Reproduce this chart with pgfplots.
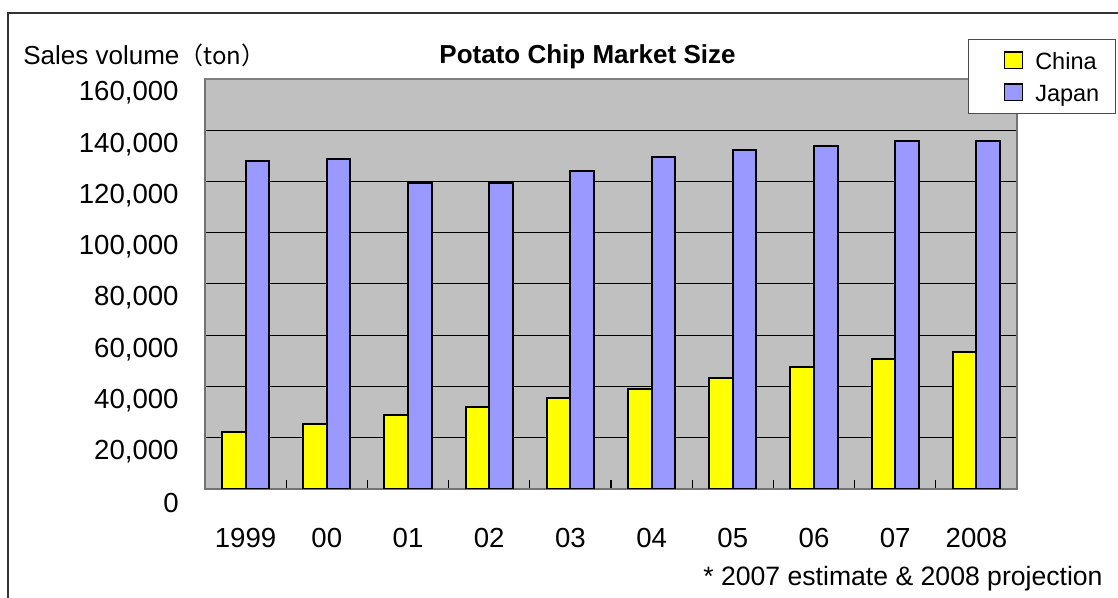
\documentclass[border=0pt]{standalone}
\usepackage{pgfplots}
\pgfplotsset{compat=1.18}
\usepackage{fontspec}
\setmainfont{Liberation Sans}
\newfontfamily\cjk{Noto Sans CJK JP}
\definecolor{plotbg}{HTML}{C0C0C0}
\definecolor{china}{HTML}{FFFF00}
\definecolor{japan}{HTML}{9999FF}

\begin{document}
\begin{tikzpicture}[x=1pt,y=1pt]
\path[use as bounding box] (0,0) rectangle (559,299);
% outer chart frame (cut off at right and bottom)
\draw[black!80, line width=0.6pt] (4,-5) -- (4,292.5) -- (565,292.5);
\begin{axis}[
    at={(102.5pt,54.5pt)}, anchor=south west,
    scale only axis, width=406pt, height=205pt,
    ybar, bar width=0.29,
    xmin=-0.5, xmax=9.5,
    ymin=0, ymax=160000,
    xtick={0,...,9},
    xticklabels={1999,00,01,02,03,04,05,06,07,2008},
    minor xtick={0.5,1.5,...,8.5},
    xtick pos=bottom, ytick pos=left,
    major tick length=0pt, minor tick length=4.5pt,
    tick align=inside,
    scaled y ticks=false,
    ytick={0,20000,40000,60000,80000,100000,120000,140000,160000},
    yticklabels={0,{20,000},{40,000},{60,000},{80,000},{100,000},{120,000},{140,000},{160,000}},
    ymajorgrids,
    grid style={black, line width=0.5pt},
    axis background/.style={fill=plotbg},
    axis line style={draw=black!55, line width=0.7pt},
    minor tick style={black, line width=0.6pt},
    ticklabel style={font=\fontsize{13.8}{16}\selectfont},
    yticklabel style={anchor=east, inner sep=0pt, xshift=-13pt, yshift=-7pt},
    xticklabel style={anchor=north, inner sep=0pt, yshift=-19.5pt},
    after end axis/.code={
        \draw[black!50, line width=0.7pt] (rel axis cs:0,1) -- (rel axis cs:1,1);
    },
    legend cell align=left,
    legend style={at={(0.9397,1.098)}, anchor=north west,
        draw=black!70, fill=white, font=\fontsize{11.75}{14}\selectfont,
        inner xsep=2pt, inner ysep=4.8pt, row sep=4.6pt,
        nodes={inner xsep=6pt, inner ysep=1pt, text height=9.4pt, text depth=0pt}},
    legend image code/.code={\path (0pt,0pt);
        \draw[#1, line width=0.8pt] (15.5pt,-4.2pt) rectangle (24.5pt,4.2pt);},
]
\addplot[draw=black, fill=china, line width=1pt, bar shift=-0.145] coordinates {
    (0,22400) (1,25400) (2,28900) (3,31900) (4,35400)
    (5,39000) (6,43400) (7,47700) (8,50600) (9,53500)
};
\addlegendentry{China}
\addplot[draw=black, fill=japan, line width=1pt, bar shift=0.145] coordinates {
    (0,127900) (1,128700) (2,119300) (3,119300) (4,124200)
    (5,129400) (6,132300) (7,133900) (8,135800) (9,135800)
};
\addlegendentry{Japan}
\end{axis}
\node[anchor=base west, inner sep=0pt, font=\fontsize{13}{15}\selectfont]
    at (11.5,266.5) {Sales volume{\cjk\fontsize{12}{14}\selectfont （ton）}};
\node[anchor=base, inner sep=0pt, font=\bfseries\fontsize{13}{15}\selectfont]
    at (293.75,267) {Potato Chip Market Size};
\node[anchor=base east, inner sep=0pt, font=\fontsize{13.3}{15}\selectfont]
    at (551.5,6) {* 2007 estimate \& 2008 projection};
\end{tikzpicture}
\end{document}
